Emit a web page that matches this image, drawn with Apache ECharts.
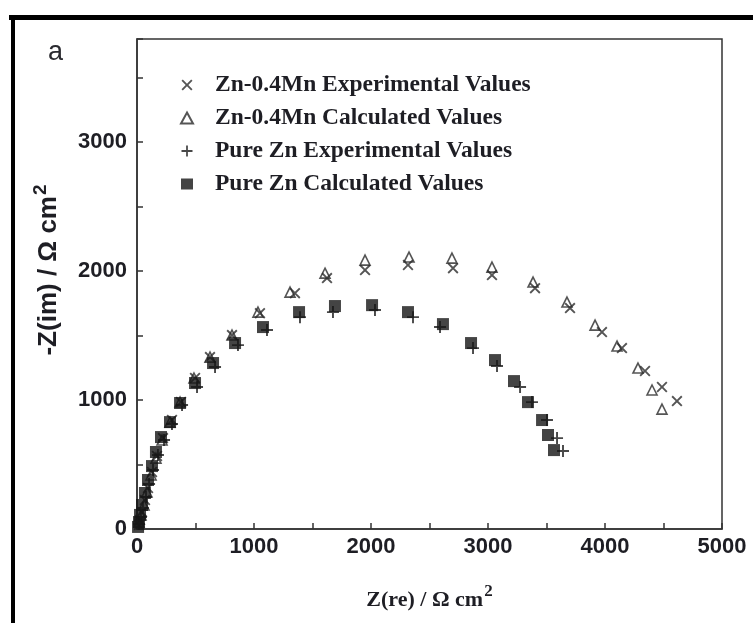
<!DOCTYPE html>
<html>
<head>
<meta charset="utf-8">
<script src="https://cdn.jsdelivr.net/npm/echarts@6/dist/echarts.min.js"></script>
<style>
  html, body { margin: 0; padding: 0; background: #fff; }
  #chart { width: 753px; height: 623px; }
</style>
</head>
<body>
<div id="chart"></div>
<script>
// Nyquist data: [Z(re), -Z(im)] in Ω·cm²
const znMnExperimental = [
  [17, 31], [26, 70], [43, 132], [68, 225], [94, 318], [128, 442], [171, 566],
  [222, 705], [299, 845], [376, 985], [496, 1171], [624, 1333], [812, 1504],
  [1051, 1674], [1350, 1829], [1624, 1946], [1949, 2008], [2316, 2047],
  [2701, 2023], [3034, 1969], [3402, 1868], [3701, 1713], [3974, 1527],
  [4145, 1403], [4342, 1225], [4487, 1101], [4615, 992]
];
const znMnCalculated = [
  [17, 54], [34, 109], [60, 186], [85, 287], [120, 419], [162, 550], [214, 690],
  [282, 829], [368, 985], [487, 1171], [624, 1333], [812, 1504], [1034, 1682],
  [1308, 1837], [1607, 1984], [1949, 2085], [2325, 2109], [2692, 2101],
  [3034, 2031], [3385, 1915], [3675, 1760], [3915, 1581], [4103, 1419],
  [4282, 1248], [4402, 1078], [4487, 930]
];
const pureZnExperimental = [
  [17, 39], [34, 93], [51, 163], [77, 248], [103, 349], [137, 457], [179, 574],
  [231, 690], [299, 814], [385, 961], [513, 1101], [667, 1256], [863, 1426],
  [1111, 1543], [1393, 1643], [1675, 1682], [2034, 1698], [2359, 1643],
  [2590, 1566], [2872, 1403], [3077, 1264], [3274, 1101], [3376, 984],
  [3504, 845], [3590, 705], [3641, 605]
];
const pureZnCalculated = [
  [9, 16], [17, 54], [26, 109], [43, 186], [68, 279], [94, 380], [128, 488],
  [162, 597], [205, 713], [282, 829], [368, 977], [496, 1132], [650, 1287],
  [838, 1442], [1077, 1566], [1385, 1682], [1692, 1729], [2009, 1736],
  [2316, 1682], [2615, 1589], [2855, 1442], [3060, 1310], [3222, 1147],
  [3342, 984], [3462, 845], [3513, 729], [3564, 612]
];
const seriesNames = [
  'Zn-0.4Mn Experimental Values',
  'Zn-0.4Mn Calculated Values',
  'Pure Zn Experimental Values',
  'Pure Zn Calculated Values'
];
const xAxisRange = [0, 5000];
const yAxisRange = [0, 3800];

const ink = '#1e1e24';
const crossPath = 'path://M1.2,0L5,3.8L8.8,0L10,1.2L6.2,5L10,8.8L8.8,10L5,6.2L1.2,10L0,8.8L3.8,5L0,1.2Z';
const plusPath = 'path://M4.2,0H5.8V4.2H10V5.8H5.8V10H4.2V5.8H0V4.2H4.2Z';
const sans = "'Liberation Sans', Arial, sans-serif";
const serif = "'Liberation Serif', 'Times New Roman', serif";

const chart = echarts.init(document.getElementById('chart'), null, { renderer: 'canvas' });

function valueAxis(range, extra) {
  return Object.assign({
    type: 'value',
    min: range[0],
    max: range[1],
    interval: 500,
    splitLine: { show: false },
    axisLine: { show: true, onZero: false, lineStyle: { color: '#333', width: 1.5 } },
    axisTick: { show: true, inside: true, length: 6, lineStyle: { color: '#333', width: 1.5 } }
  }, extra);
}

const tickLabel = (margin) => ({
  fontFamily: sans, fontWeight: 'bold', fontSize: 22, color: ink, margin: margin,
  formatter: v => (v % 1000 === 0 ? String(v) : '')
});

chart.setOption({
  animation: false,
  backgroundColor: '#fff',
  grid: {
    left: 137, right: 31, top: 39, bottom: 94,
    show: true, borderColor: '#333', borderWidth: 1.5, backgroundColor: 'transparent'
  },
  xAxis: valueAxis(xAxisRange, {
    name: '{a|Z(re) / Ω cm}{s|2}',
    nameLocation: 'middle',
    nameGap: 58,
    nameTextStyle: {
      rich: {
        a: { fontFamily: serif, fontWeight: 'bold', fontSize: 22, color: ink, lineHeight: 26 },
        s: { fontFamily: serif, fontWeight: 'bold', fontSize: 17, color: ink, padding: [0, 0, 16, 1], lineHeight: 26 }
      }
    },
    axisLabel: tickLabel(7)
  }),
  yAxis: valueAxis(yAxisRange, {
    name: '{a|-Z(im) / Ω cm}{s|2}',
    nameLocation: 'middle',
    nameGap: 63,
    nameRotate: 90,
    nameTextStyle: {
      padding: [0, 0, 0, 28],
      rich: {
        a: { fontFamily: sans, fontWeight: 'bold', fontSize: 26, color: ink, lineHeight: 30 },
        s: { fontFamily: sans, fontWeight: 'bold', fontSize: 19, color: ink, padding: [0, 0, 17, 1], lineHeight: 30 }
      }
    },
    axisLabel: tickLabel(10)
  }),
  legend: {
    orient: 'vertical',
    left: 175,
    top: 68,
    itemGap: 9,
    itemWidth: 12,
    itemHeight: 11,
    data: seriesNames,
    selectedMode: false,
    textStyle: {
      fontFamily: serif, fontWeight: 'bold', fontSize: 23.5, color: ink,
      lineHeight: 24, padding: [0, 0, 0, 17]
    }
  },
  graphic: [
    { type: 'line', shape: { x1: 9, y1: 17.5, x2: 760, y2: 17.5 }, style: { stroke: '#000', lineWidth: 5 } },
    { type: 'line', shape: { x1: 13, y1: 15, x2: 13, y2: 630 }, style: { stroke: '#000', lineWidth: 4 } },
    { type: 'text', left: 48, top: 39, style: { text: 'a', fontFamily: sans, fontSize: 27, fill: '#2a2a30' } }
  ],
  series: [
    {
      name: seriesNames[0], type: 'scatter', data: znMnExperimental,
      symbol: crossPath, symbolSize: 11, z: 3,
      itemStyle: { color: '#2a2a2a' }
    },
    {
      name: seriesNames[1], type: 'scatter', data: znMnCalculated,
      symbol: 'triangle', symbolSize: 10, z: 2,
      itemStyle: { color: '#fff', borderColor: '#2a2a2a', borderWidth: 1.6 }
    },
    {
      name: seriesNames[2], type: 'scatter', data: pureZnExperimental,
      symbol: plusPath, symbolSize: 12, z: 3,
      itemStyle: { color: '#1a1a1a' }
    },
    {
      name: seriesNames[3], type: 'scatter', data: pureZnCalculated,
      symbol: 'rect', symbolSize: 12, z: 4,
      itemStyle: { color: '#151515' }
    }
  ]
});
</script>
</body>
</html>
